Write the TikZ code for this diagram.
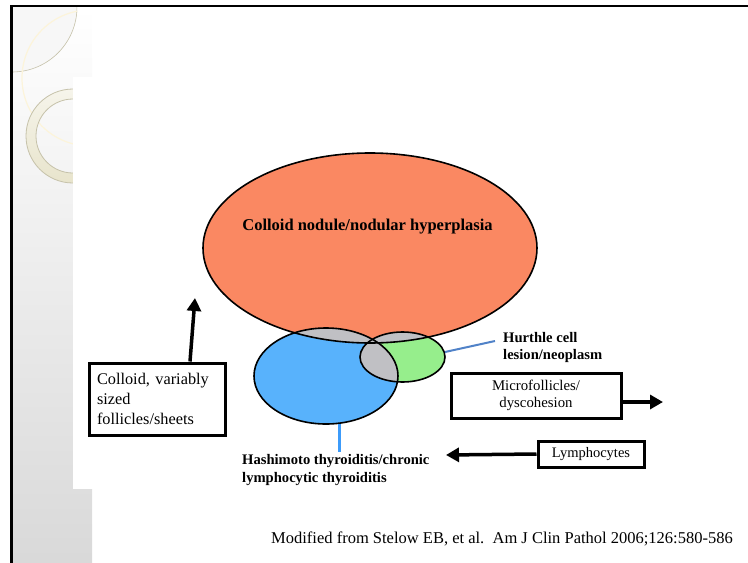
\documentclass[tikz,border=0pt]{standalone}
\usepackage{fontspec}
\setmainfont{Liberation Serif}
\usetikzlibrary{arrows.meta}
\definecolor{nodule}{RGB}{250,136,98}
\definecolor{hashi}{RGB}{88,178,252}
\definecolor{hurthle}{RGB}{150,238,140}
\definecolor{overlap}{RGB}{192,192,196}
\definecolor{ringtan}{RGB}{232,228,204}
\definecolor{ringedge}{RGB}{198,194,170}
\definecolor{cream}{RGB}{252,244,218}
\definecolor{leaderblue}{RGB}{80,130,200}
\definecolor{hashiline}{RGB}{60,155,250}

\begin{document}
\begin{tikzpicture}[x=1pt,y=-1pt,
    labelbox/.style={draw=black,line width=3pt,inner sep=0pt},
    thickarrow/.style={line width=3.5pt,-{Triangle[length=13pt,width=14pt]}},
    venn/.style={draw=black,line width=1.6pt}]
    \useasboundingbox (0,0) rectangle (748,563);

    % slide background
    \shade[top color=white,bottom color=black!15] (12,7) rectangle (92,563);
    \begin{scope}
        \clip (12,7) rectangle (77,563);
        \filldraw[fill=black!3,draw=ringedge,line width=0.6pt] (12,7) circle (65pt);
        \draw[cream,line width=1.2pt] (90,78) circle (68pt);
    \end{scope}
    \path[draw=ringedge,line width=0.8pt,top color=ringtan!40,bottom color=ringtan,even odd rule]
        (73,136) circle (47pt) (73,136) circle (37pt);
    \fill[white] (73,77) rectangle (700,489);
    \draw[line width=2pt] (10,6) -- (748,6);
    \draw[line width=3pt] (11,5) -- (11,563);

    % ellipses
    \coordinate (noduleC) at (370,248);
    \coordinate (hashiC) at (326,376);
    \coordinate (hurthleC) at (402.5,357);
    \fill[nodule] (noduleC) ellipse [x radius=167pt,y radius=95pt];
    \fill[hashi] (hashiC) ellipse [x radius=72pt,y radius=48pt];
    \fill[hurthle] (hurthleC) ellipse [x radius=42.5pt,y radius=25pt];
    \begin{scope}
        \clip (noduleC) ellipse [x radius=167pt,y radius=95pt];
        \fill[overlap] (hashiC) ellipse [x radius=72pt,y radius=48pt];
        \fill[overlap] (hurthleC) ellipse [x radius=42.5pt,y radius=25pt];
    \end{scope}
    \begin{scope}
        \clip (hashiC) ellipse [x radius=72pt,y radius=48pt];
        \fill[overlap] (hurthleC) ellipse [x radius=42.5pt,y radius=25pt];
    \end{scope}
    \draw[venn] (noduleC) ellipse [x radius=167pt,y radius=95pt];
    \draw[venn] (hashiC) ellipse [x radius=72pt,y radius=48pt];
    \draw[venn] (hurthleC) ellipse [x radius=42.5pt,y radius=25pt];

    % labels
    \node[font=\bfseries\fontsize{16.5}{20}\selectfont] (nodulelabel) at (367.5,227) {Colloid nodule/nodular hyperplasia};
    \node[font=\bfseries\fontsize{14.6}{17}\selectfont,align=left,anchor=west,inner sep=0pt] (hurthlelabel) at (503,347) {Hurthle cell\\lesion/neoplasm};
    \node[font=\bfseries\fontsize{14.6}{18}\selectfont,align=left,anchor=north west,inner sep=0pt] (hashilabel) at (242,454) {Hashimoto thyroiditis/chronic\\lymphocytic thyroiditis};

    % boxes
    \node[labelbox,minimum width=136pt,minimum height=72pt,text width=120pt,align=left,font=\fontsize{16.3}{20}\selectfont] (colloidbox) at (157,399) {Colloid, variably\\sized\\follicles/sheets};
    \node[labelbox,minimum width=170pt,minimum height=45pt,align=center,font=\fontsize{14.8}{17}\selectfont] (microbox) at (536,395.5) {Microfollicles/\\dyscohesion};
    \node[labelbox,minimum width=106pt,minimum height=26pt,font=\fontsize{14.5}{17}\selectfont] (lymphobox) at (591,454) {Lymphocytes};

    \node[font=\fontsize{16.5}{20}\selectfont] (citation) at (502,539) {Modified from Stelow EB, et al.\ \ Am J Clin Pathol 2006;126:580-586};

    % arrows
    \coordinate (colloidtip) at (195,298);
    \coordinate (microtip) at (663,402);
    \coordinate (lymphotip) at (446,455);
    \draw[thickarrow] ([xshift=33pt]colloidbox.north) -- (colloidtip);
    \draw[thickarrow] (microbox.east |- microtip) -- (microtip);
    \draw[thickarrow] (lymphobox.west) -- (lymphotip);

    % leader lines
    \coordinate (hurthleedge) at (445,352);
    \coordinate (hashiedge) at (339,424);
    \draw[leaderblue,line width=2pt] (hurthleedge) -- ([shift={(-8pt,6pt)}]hurthlelabel.west);
    \draw[hashiline,line width=3pt] (hashiedge) -- ([yshift=2pt]hashiedge |- hashilabel.north);
\end{tikzpicture}
\end{document}
